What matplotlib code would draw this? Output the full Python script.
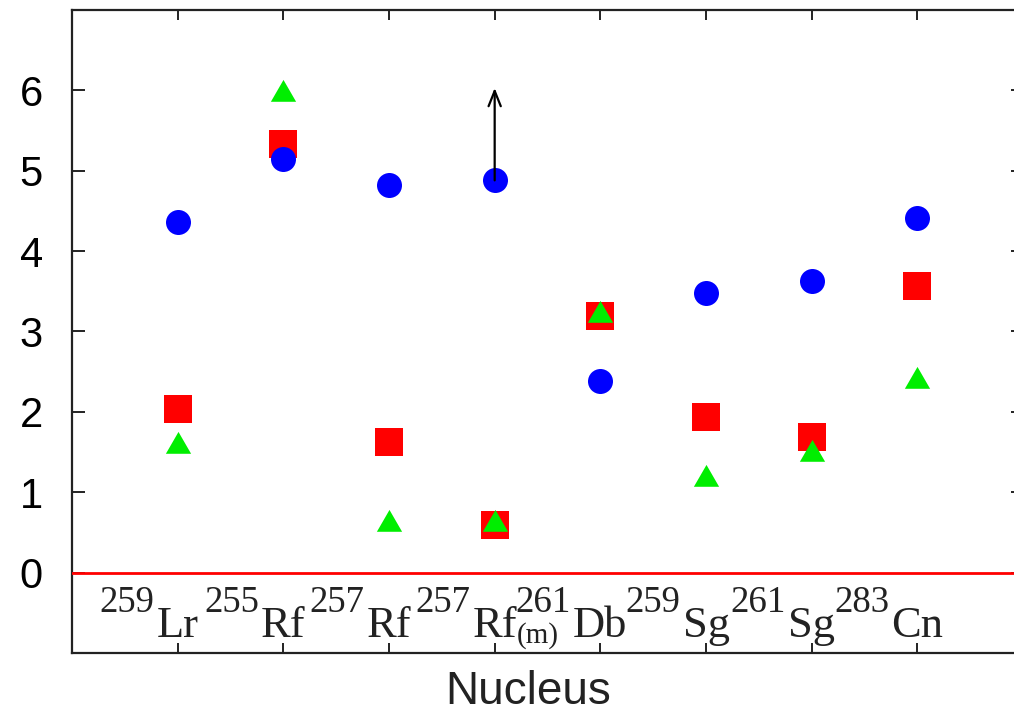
import matplotlib

matplotlib.use("Agg")
import matplotlib.pyplot as plt
from matplotlib.path import Path

# data
positions = [1, 2, 3, 4, 5, 6, 7, 8]
masses = ["259", "255", "257", "257", "261", "259", "261", "283"]
elements = ["Lr", "Rf", "Rf", "Rf", "Db", "Sg", "Sg", "Cn"]
subscripts = ["", "", "", "(m)", "", "", "", ""]

blue_vals = [4.36, 5.15, 4.82, 4.88, 2.39, 3.48, 3.63, 4.41]
red_vals = [2.03, 5.33, 1.63, 0.59, 3.19, 1.94, 1.69, 3.57]
green_vals = [1.58, 5.95, 0.60, 0.60, 3.21, 1.17, 1.48, 2.39]

arrow_index = 3
arrow_top = 6.03

y_ticks = [0, 1, 2, 3, 4, 5, 6]

SERIF = "Liberation Serif"
SANS = "Liberation Sans"

fig = plt.figure(figsize=(10.14, 7.13), dpi=100)
ax = fig.add_axes([0.0710, 0.0842, 0.9379, 0.9018])
ax.set_xlim(0, 9)
ax.set_ylim(-1, 7)

# horizontal zero line, drawn over the tick marks like the original
ax.axhline(0, color="#ff0000", lw=2.0, zorder=3)

tri = Path([(-1, -0.577), (1, -0.577), (0, 1.155), (-1, -0.577)],
           [Path.MOVETO, Path.LINETO, Path.LINETO, Path.CLOSEPOLY])

ax.plot(positions, red_vals, ls="none", marker="s", ms=19.5, color="#ff0000",
        markeredgewidth=0, zorder=4)
ax.plot(positions, blue_vals, ls="none", marker="o", ms=18, color="#0000ff",
        markeredgewidth=0, zorder=5)
ax.plot(positions, green_vals, ls="none", marker=tri, ms=21, color="#00ee00",
        markeredgewidth=0, zorder=6)

ax.annotate("", xy=(positions[arrow_index], arrow_top),
            xytext=(positions[arrow_index], blue_vals[arrow_index]),
            arrowprops=dict(arrowstyle="->,head_length=0.55,head_width=0.22",
                            lw=1.6, color="black", shrinkA=0, shrinkB=0,
                            mutation_scale=20),
            zorder=7)

# axes frame and ticks
for side in ("left", "right", "top", "bottom"):
    ax.spines[side].set_linewidth(1.6)
    ax.spines[side].set_color("#222222")

ax.set_xticks(positions)
ax.set_xticklabels([])
ax.set_yticks(y_ticks)
ax.set_yticklabels([str(v) for v in y_ticks], fontfamily=SANS, fontsize=30)
ax.tick_params(axis="x", direction="in", length=7, width=1.4, top=True,
               bottom=True, color="#222222")
ax.tick_params(axis="y", direction="in", length=9, width=1.4, left=True,
               right=True, pad=21, color="#222222")

# nucleus labels drawn inside the frame
label_y = -0.80
for x, m, el, sub in zip(positions, masses, elements, subscripts):
    t = ax.text(x, label_y, el, ha="center", va="baseline", fontfamily=SERIF,
                fontsize=32, color="#222222", zorder=6)
    ax.annotate(m, xy=(0, label_y), xycoords=(t, "data"), xytext=(-2, 25),
                textcoords="offset pixels", ha="right", va="baseline",
                fontfamily=SERIF, fontsize=26.5, color="#222222")
    if sub:
        ax.annotate(sub, xy=(1, label_y), xycoords=(t, "data"), xytext=(0, -6),
                    textcoords="offset pixels", ha="left", va="baseline",
                    fontfamily=SERIF, fontsize=21, color="#222222")

fig.text(528 / 1014, 9 / 713, "Nucleus", ha="center", va="baseline",
         fontfamily=SANS, fontsize=33, color="#222222")

fig.savefig("out.png", dpi=100, facecolor="white")
